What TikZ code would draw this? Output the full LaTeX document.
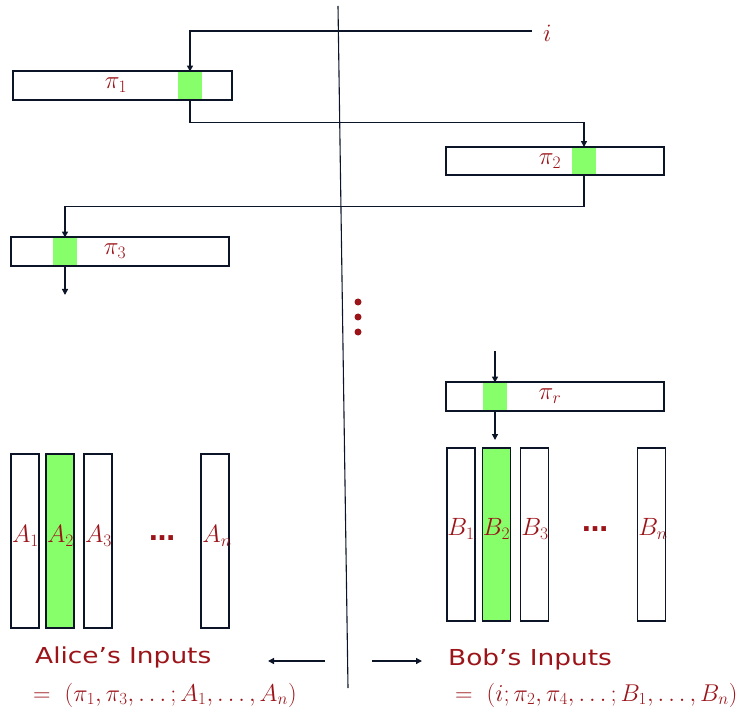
\documentclass[tikz,border=0pt]{standalone}
\usepackage{fix-cm}
\usepackage{fontspec}
\newfontfamily\labelfont[FakeStretch=1.2]{DejaVu Sans}
\newfontfamily\dotfont{DejaVu Sans}
\usetikzlibrary{arrows.meta}
\definecolor{dred}{RGB}{155,20,25}
\definecolor{lgreen}{RGB}{134,255,107}
\definecolor{navy}{RGB}{12,20,40}
\begin{document}
\begin{tikzpicture}[x=1pt,y=-1pt,
  rowbox/.style={draw=navy,line width=1.8pt,rectangle,inner sep=0pt,minimum height=29pt},
  colbox/.style={draw=navy,line width=1.8pt,rectangle,inner sep=0pt,minimum width=28pt},
  gsq/.style={fill=lgreen,rectangle,inner sep=0pt,minimum width=24pt,minimum height=27.5pt},
  mlabel/.style={text=dred,inner sep=0pt,font=\fontsize{25}{29}\selectfont},
  eqlabel/.style={text=dred,inner sep=0pt,font=\fontsize{24.3}{28}\selectfont},
  dotslabel/.style={text=dred,inner sep=0pt,font=\dotfont\bfseries\fontsize{26}{30}\selectfont},
  tlabel/.style={text=dred,inner sep=0pt,font=\labelfont\fontsize{22}{26}\selectfont},
  conn/.style={draw=navy,line width=1.3pt},
  arr/.style={conn,-{Triangle[length=6pt,width=6pt]}},
  dotc/.style={fill=dred,circle,inner sep=0pt,minimum size=7pt}
]
\useasboundingbox (0,0) rectangle (741,708);

% divider
\coordinate (divtop) at (338,6);
\coordinate (divbot) at (348,688);
\draw[navy,line width=1.1pt] (divtop) -- (divbot);

% row boxes
\node[gsq] (g1) at (190,85.5) {};
\node[rowbox,minimum width=219pt] (pi1) at (122.5,85.5) {};
\node[mlabel] (l1) at (116,85) {$\pi_1$};

\node[gsq] (g2) at (584,161) {};
\node[rowbox,minimum width=218pt,minimum height=28pt] (pi2) at (555,161) {};
\node[mlabel] (l2) at (550,161) {$\pi_2$};

\node[gsq] (g3) at (65,251.5) {};
\node[rowbox,minimum width=218pt] (pi3) at (120,251.5) {};
\node[mlabel] (l3) at (115,251) {$\pi_3$};

\node[gsq] (gr) at (495,396.5) {};
\node[rowbox,minimum width=218pt] (pir) at (555,396.5) {};
\node[mlabel] (lr) at (550,396) {$\pi_r$};

% connectors
\coordinate (iend) at (532,31);
\node[mlabel,anchor=west] (ilab) at (543,33) {$i$};
\draw[arr] (iend) -| (g1.north);
\draw[arr] (g1.south) -- ++(0,23) -| (g2.north);
\draw[arr] (g2.south) -- ++(0,31.5) -| (g3.north);
\coordinate (p3out) at (65,295);
\draw[arr] (g3.south) -- (p3out);

\coordinate (rin) at (495,351);
\draw[arr] (rin) -- (gr.north);
\coordinate (rout) at (495,440);
\draw[arr] (gr.south) -- (rout);

% dots
\node[dotc] (d1) at (358,302) {};
\node[dotc] (d2) at (358,317) {};
\node[dotc] (d3) at (358,332) {};

% Alice columns
\node[colbox,minimum height=174pt] (A1) at (25,541) {};
\node[colbox,minimum height=174pt,fill=lgreen] (A2) at (60,541) {};
\node[colbox,minimum height=174pt] (A3) at (98,541) {};
\node[colbox,minimum height=174pt] (An) at (215,541) {};
\node[mlabel] (la1) at (25.5,536) {$A_1$};
\node[mlabel] (la2) at (60.5,536) {$A_2$};
\node[mlabel] (la3) at (98.5,536) {$A_3$};
\node[mlabel] (lan) at (217,536) {$A_n$};
\node[dotslabel,anchor=base] (ladots) at (162,540) {…};

% Bob columns
\node[colbox,minimum height=173pt] (B1) at (461,534.5) {};
\node[colbox,minimum height=173pt,fill=lgreen] (B2) at (496.5,534.5) {};
\node[colbox,minimum height=173pt] (B3) at (534.5,534.5) {};
\node[colbox,minimum height=173pt] (Bn) at (651.5,534.5) {};
\node[mlabel] (lb1) at (461,529) {$B_1$};
\node[mlabel] (lb2) at (496.5,529) {$B_2$};
\node[mlabel] (lb3) at (535,529) {$B_3$};
\node[mlabel] (lbn) at (653,529) {$B_n$};
\node[dotslabel,anchor=base] (lbdots) at (595,531) {…};

% bottom
\coordinate (la) at (325,661);
\coordinate (lb) at (268,661);
\draw[arr] (la) -- (lb);
\coordinate (ra) at (372,661);
\coordinate (rb) at (422,661);
\draw[arr] (ra) -- (rb);

\node[tlabel,anchor=base west] (alice) at (35,663) {Alice’s Inputs};
\node[eqlabel,anchor=base west] (aliceeq) at (33,701) {$=\ (\pi_1,\pi_3,\ldots;A_1,\ldots,A_n)$};
\node[tlabel,anchor=base west] (bob) at (448,665) {Bob’s Inputs};
\node[eqlabel,anchor=base west] (bobeq) at (455,701) {$=\ (i;\pi_2,\pi_4,\ldots;B_1,\ldots,B_n)$};
\end{tikzpicture}
\end{document}
